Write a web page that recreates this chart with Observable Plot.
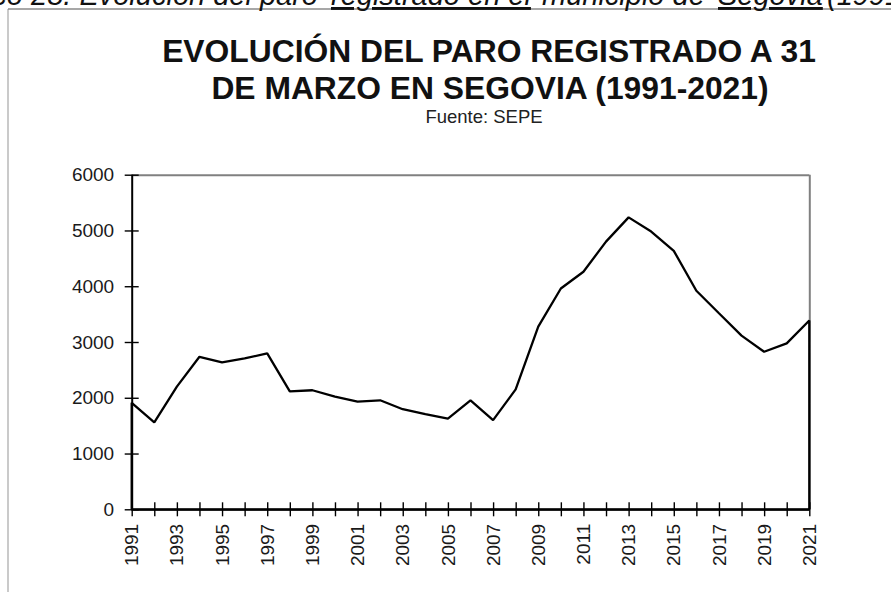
<!DOCTYPE html>
<html><head><meta charset="utf-8">
<script src="https://cdn.jsdelivr.net/npm/d3@7"></script>
<script src="https://cdn.jsdelivr.net/npm/@observablehq/plot@0.6"></script>
<style>
html,body{margin:0;padding:0;background:#fff;}
#wrap{position:relative;width:891px;height:592px;overflow:hidden;font-family:"Liberation Sans",Arial,sans-serif;}
#wrap > svg{position:absolute;left:0;top:0;}
</style></head><body><div id="wrap"></div>
<script>
// ---- data ----
const years = [1991,1992,1993,1994,1995,1996,1997,1998,1999,2000,2001,2002,2003,2004,2005,2006,2007,2008,2009,2010,2011,2012,2013,2014,2015,2016,2017,2018,2019,2020,2021];
const paro  = [1910,1560,2200,2735,2635,2705,2795,2115,2135,2020,1930,1955,1795,1705,1625,1955,1600,2150,3275,3960,4260,4800,5235,4980,4635,3920,3515,3115,2825,2975,3385];
const yTicks = [0,1000,2000,3000,4000,5000,6000];
const xLabelYears = [1991,1993,1995,1997,1999,2001,2003,2005,2007,2009,2011,2013,2015,2017,2019,2021];
const titleLines = ["EVOLUCIÓN DEL PARO REGISTRADO A 31", "DE MARZO EN SEGOVIA (1991-2021)"];
const sourceText = "Fuente: SEPE";
const captionParts = ["Gráfico 28. Evolución del paro", "registrado en el", "municipio de", "Segovia", "(1991-2021)"];

const data = years.map((y, i) => ({year: y, paro: paro[i]}));
const font = "Liberation Sans, Arial, sans-serif";

const chart = Plot.plot({
  width: 891, height: 592,
  marginLeft: 131.7, marginRight: 81.7, marginTop: 174.7, marginBottom: 82.7,
  style: {fontFamily: font, fontSize: "19px", color: "#111", background: "white", overflow: "visible"},
  x: {type: "linear", domain: [1991, 2021]},
  y: {domain: [0, 6000]},
  marks: [
    Plot.ruleY([6000], {stroke: "#808080", strokeWidth: 2}),
    Plot.ruleX([2021], {y1: 0, y2: 6000, stroke: "#808080", strokeWidth: 2}),
    Plot.areaY(data, {x: "year", y: "paro", fill: "white", stroke: "black", strokeWidth: 2.3, strokeLinejoin: "miter"}),
    Plot.ruleX([1991], {y1: 0, y2: 6000, stroke: "black", strokeWidth: 2}),
    Plot.ruleY([0], {stroke: "black", strokeWidth: 2}),
    Plot.axisY({ticks: yTicks, anchor: "left", tickSize: 14, dx: 7, fill: "none", stroke: "black", strokeWidth: 1.4, label: null}),
    Plot.axisY({ticks: yTicks, anchor: "left", tickSize: 0, tickPadding: 18, fill: "#1a1a1a", fontSize: 19, label: null, tickFormat: d => String(d)}),
    Plot.axisX({ticks: years, anchor: "bottom", tickSize: 14, dy: -7, fill: "none", stroke: "black", strokeWidth: 1.4, label: null}),
    Plot.axisX({ticks: xLabelYears, anchor: "bottom", tickSize: 0, tickPadding: 14, tickRotate: -90, fill: "#1a1a1a", fontSize: 19, label: null, tickFormat: d => String(d)})
  ]
});
document.getElementById("wrap").appendChild(chart);

// ---- overlay: document frame, caption, title ----
const ns = "http://www.w3.org/2000/svg";
const ov = document.createElementNS(ns, "svg");
ov.setAttribute("width", 891); ov.setAttribute("height", 592);
ov.style.fontFamily = font;
function el(tag, attrs, txt) {
  const e = document.createElementNS(ns, tag);
  for (const k in attrs) e.setAttribute(k, attrs[k]);
  if (txt !== undefined) e.textContent = txt;
  ov.appendChild(e);
  return e;
}
el("line", {x1: 8, y1: 9, x2: 8, y2: 592, stroke: "#b8b8b8", "stroke-width": 1.5});
el("line", {x1: 8, y1: 9, x2: 891, y2: 9, stroke: "#8a8a8a", "stroke-width": 1.5});
const capStyle = {y: 5, "font-size": 29, "font-style": "italic", fill: "#111"};
el("text", {...capStyle, x: 318, "text-anchor": "end"}, captionParts[0]);
el("text", {...capStyle, x: 331, "text-decoration": "underline"}, captionParts[1]);
el("text", {...capStyle, x: 542}, captionParts[2]);
el("text", {...capStyle, x: 718, "text-decoration": "underline"}, captionParts[3]);
el("text", {...capStyle, x: 827}, captionParts[4]);
el("text", {x: 489, y: 62, "text-anchor": "middle", "font-size": 31.8, "font-weight": "bold", fill: "#111"}, titleLines[0]);
el("text", {x: 490, y: 98.5, "text-anchor": "middle", "font-size": 31.8, "font-weight": "bold", fill: "#111"}, titleLines[1]);
el("text", {x: 484, y: 123, "text-anchor": "middle", "font-size": 18.5, fill: "#222"}, sourceText);
document.getElementById("wrap").appendChild(ov);
</script>
</body></html>
